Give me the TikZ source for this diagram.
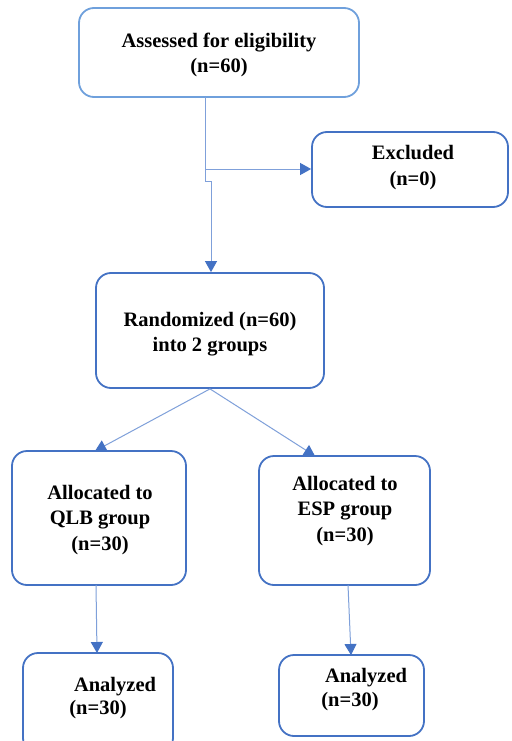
\documentclass[tikz,border=0pt]{standalone}
\usepackage{fontspec}
\setmainfont{Liberation Serif}
\usetikzlibrary{arrows.meta}
\definecolor{bdr}{HTML}{4472C4}
\definecolor{bdrlight}{HTML}{6FA0DC}
\definecolor{conn}{HTML}{7FA0DA}
\tikzset{
  box/.style={draw=bdr, line width=1.8pt, rounded corners=15pt, fill=white, inner sep=0pt},
  txt/.style={align=center, font=\fontsize{20.5}{25.5}\selectfont\bfseries, inner sep=0pt},
  conline/.style={draw=conn, line width=1pt},
  arr/.style={conline, -{Triangle[width=12pt,length=11pt,color=bdr]}}
}
\begin{document}
\begin{tikzpicture}[x=1pt,y=-1pt]
\clip (0,0) rectangle (511,741);
\fill[white] (0,0) rectangle (511,741);
% boxes
\node[box, draw=bdrlight, minimum width=280pt, minimum height=89pt] (A) at (219,52.5) {};
\node[box, minimum width=196pt, minimum height=75pt] (E) at (410,169.5) {};
\node[box, minimum width=228pt, minimum height=115pt] (R) at (210,330.5) {};
\node[box, minimum width=174pt, minimum height=134pt] (Q) at (99,518) {};
\node[box, minimum width=171pt, minimum height=129pt] (S) at (344.5,520.5) {};
\node[box, minimum width=150pt, minimum height=100pt] (L) at (98,703) {};
\node[box, minimum width=145pt, minimum height=81pt] (M) at (351.5,695.5) {};
% texts
\node[txt] (tA) at (219,55) {Assessed for eligibility\\(n=60)};
\node[txt] (tE) at (413,167.5) {Excluded\\(n=0)};
\node[txt] (tR) at (210,334) {Randomized (n=60)\\into 2 groups};
\node[txt] (tQ) at (100,520) {Allocated to\\QLB group\\(n=30)};
\node[txt] (tS) at (345,511) {Allocated to\\ESP group\\(n=30)};
\node[txt] (tL1) at (115,687) {Analyzed};
\node[txt] (tL2) at (98,710) {(n=30)};
\node[txt] (tM1) at (366,678) {Analyzed};
\node[txt] (tM2) at (350,702) {(n=30)};
% connectors
\coordinate (j0) at (205,97);
\coordinate (j1) at (205,181);
\coordinate (j2) at (211,181);
\coordinate (h) at (205,169);
\coordinate (qt) at (95,451);
\coordinate (st) at (315,456);
\coordinate (qb) at (96,585);
\coordinate (lt) at (97,653);
\coordinate (sb) at (348,585);
\coordinate (mt) at (351,655);
\draw[conline] (j0) -- (j1) -- (j2);
\draw[arr] (j2) -- (R.north -| j2);
\draw[arr] (h) -- (E.west |- h);
\draw[arr] (R.south) -- (qt);
\draw[arr] (R.south) -- (st);
\draw[arr] (qb) -- (lt);
\draw[arr] (sb) -- (mt);
\end{tikzpicture}
\end{document}
